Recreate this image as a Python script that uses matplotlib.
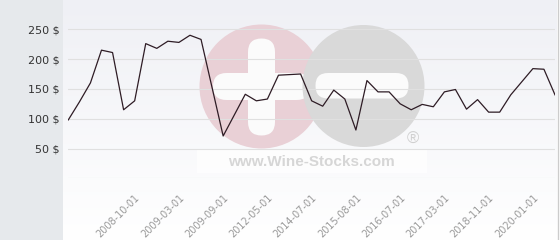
import numpy as np
import matplotlib
matplotlib.use("Agg")
import matplotlib.pyplot as plt
from matplotlib.patches import Rectangle, Circle, FancyBboxPatch

# ---- data ----
prices = [98, 128, 160, 215, 211, 115, 130, 226, 218, 230,
          228, 240, 233, 152, 71, 106, 141, 130, 133, 173,
          174, 175, 130, 121, 148, 133, 81, 164, 145, 145,
          125, 115, 124, 120, 145, 149, 116, 132, 111, 111,
          140, 162, 184, 183, 140]
tick_positions = [6, 10, 14, 18, 22, 26, 30, 34, 38, 42]
tick_labels = ["2008-10-01", "2009-03-01", "2009-09-01", "2012-05-01",
               "2014-07-01", "2015-08-01", "2016-07-01", "2017-03-01",
               "2018-11-01", "2020-01-01"]
y_ticks = [0, 50, 100, 150, 200, 250]
y_tick_labels = ["", "50 $", "100 $", "150 $", "200 $", "250 $"]

W, H = 560, 240
fig = plt.figure(figsize=(5.6, 2.4), dpi=100)
fig.patch.set_facecolor("#ffffff")

# ---- background / watermark layer (pixel coordinates, y down) ----
bg = fig.add_axes([0, 0, 1, 1], zorder=0)
bg.axis("off")
bg.add_patch(Rectangle((0, 0), 63, H, color="#e6e9ec", lw=0, zorder=0))
grad = np.linspace(0, 1, 256).reshape(-1, 1)
top = np.array([0xef, 0xf0, 0xf5]) / 255.0
bot = np.array([1.0, 1.0, 1.0])
img = top[None, None, :] + (bot - top)[None, None, :] * grad[..., None]
bg.imshow(img, extent=(63, 557, H, 0), aspect="auto", zorder=0.5,
          interpolation="bilinear")
bg.plot([557.5, 557.5], [0, H], color="#cccccc", lw=1.0, zorder=1)

pink = "#e9d0d6"
grey = "#d9d9d9"
bg.add_patch(Circle((261.5, 86.5), 62, color=pink, lw=0, zorder=2))
bg.add_patch(FancyBboxPatch((248, 38.5), 27, 97,
                            boxstyle="round,pad=0,rounding_size=13.5",
                            color="#fbfbfb", lw=0, zorder=3))
bg.add_patch(FancyBboxPatch((213, 73), 97, 27,
                            boxstyle="round,pad=0,rounding_size=13.5",
                            color="#fbfbfb", lw=0, zorder=3))
bg.add_patch(Circle((363.5, 86), 61, color=grey, lw=0, zorder=4))
bg.add_patch(FancyBboxPatch((315.5, 73), 93, 25.5,
                            boxstyle="round,pad=0,rounding_size=12.5",
                            color="#fbfbfb", lw=0, zorder=5))
bg.add_patch(Rectangle((197, 150), 230, 23, color="#ffffff", alpha=0.75,
                       lw=0, zorder=5))
bg.text(311, 162, "www.Wine-Stocks.com", ha="center", va="center",
        fontsize=11, fontweight="bold", family="Liberation Sans",
        color="#d6d6d6", zorder=6)
bg.text(412.5, 139, "\u00ae", ha="center", va="center", fontsize=12,
        family="Liberation Sans", color="#d0d0d0", zorder=6)
bg.set_xlim(0, W)
bg.set_ylim(H, 0)

# ---- main chart ----
x_left, x_right = 68.3, 555.0
y_zero, y_top = 178.3, 2.0
px_per_unit = 29.8 / 50.0
ax = fig.add_axes([x_left / W, (H - y_zero) / H,
                   (x_right - x_left) / W, (y_zero - y_top) / H], zorder=2)
ax.set_facecolor("none")
ax.set_xlim(0, len(prices) - 1)
ax.set_ylim(0, (y_zero - y_top) / px_per_unit)
for s in ax.spines.values():
    s.set_visible(False)

ax.set_yticks(y_ticks)
ax.set_yticklabels(y_tick_labels, fontsize=8, color="#333333")
ax.yaxis.grid(True, color="#e0e0e0", lw=0.8)
ax.set_axisbelow(True)

ax.set_xticks(tick_positions)
ax.set_xticklabels(tick_labels, rotation=45, ha="right",
                   rotation_mode="anchor", fontsize=7, color="#999999")
ax.tick_params(axis="x", length=0, pad=10)
ax.tick_params(axis="y", length=0, pad=6)

ax.plot(range(len(prices)), prices, color="#2e1c25", lw=0.9, zorder=3)

fig.savefig("out.png", dpi=100)
